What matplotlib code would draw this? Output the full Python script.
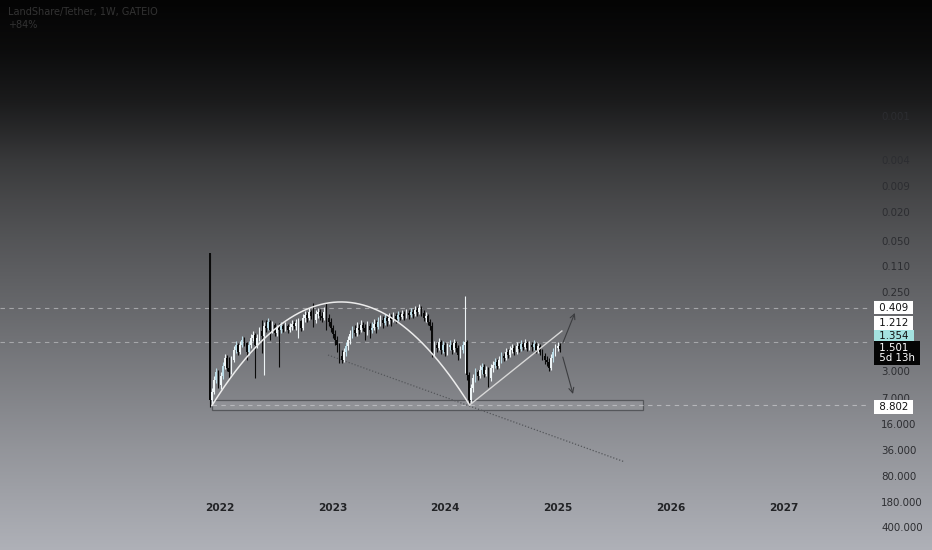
import datetime as dt
import numpy as np
import matplotlib
matplotlib.use('Agg')
import matplotlib.pyplot as plt
import matplotlib.dates as mdates
from matplotlib.patches import Rectangle
from matplotlib.ticker import NullLocator

# chart data (weekly candles, price in USDT, inverted log scale)
title = "LandShare/Tether, 1W, GATEIO"
subtitle = "+84%"
first_week = dt.date(2021, 11, 29)
first_open = 0.0735

close = [7.42, 5.78, 3.96, 3.08, 4.64, 3.50, 2.55, 1.99, 2.72, 3.08,
         2.12, 1.55, 1.32, 1.65, 1.32, 1.13, 1.24, 1.65, 1.32, 1.06,
         0.965, 1.32, 1.06, 0.851, 0.995, 0.727, 0.774, 0.641, 0.824, 0.705,
         0.906, 0.774, 0.824, 0.727, 0.799, 0.727, 0.824, 0.750, 0.683, 0.727,
         0.662, 0.621, 0.774, 0.566, 0.515, 0.566, 0.468, 0.531, 0.602, 0.499,
         0.468, 0.531, 0.566, 0.468, 0.566, 0.641, 0.774, 0.935, 1.13, 1.32,
         1.87, 2.12, 1.65, 1.36, 1.13, 0.935, 0.824, 0.906, 0.774, 0.824,
         0.705, 0.774, 0.878, 0.727, 0.824, 0.774, 0.683, 0.750, 0.641, 0.602,
         0.662, 0.566, 0.621, 0.566, 0.602, 0.531, 0.584, 0.515, 0.548, 0.499,
         0.531, 0.483, 0.515, 0.468, 0.499, 0.440, 0.468, 0.413, 0.483, 0.566,
         0.531, 0.641, 0.727, 1.70, 1.32, 1.45, 1.20, 1.55, 1.32, 1.65,
         1.41, 1.32, 1.55, 1.24, 1.45, 1.81, 1.55, 1.32, 1.20, 3.39,
         7.42, 5.09, 3.72, 3.08, 3.50, 2.90, 2.64, 3.28, 2.90, 3.72,
         2.72, 2.47, 2.25, 2.55, 2.12, 1.87, 1.99, 1.65, 1.81, 1.55,
         1.45, 1.65, 1.36, 1.50, 1.28, 1.41, 1.24, 1.45, 1.32, 1.41,
         1.28, 1.55, 1.36, 1.65, 1.87, 2.12, 2.25, 2.72, 1.99, 1.65,
         1.45, 1.36, 1.50]

high = [9.25, 8.42, 6.15, 4.36, 5.09, 5.26, 3.84, 2.81, 2.99, 3.72,
        3.28, 2.25, 1.70, 1.81, 1.75, 1.41, 1.36, 2.12, 1.81, 1.45,
        1.17, 3.72, 1.45, 1.17, 1.70, 3.39, 0.878, 0.824, 1.13, 0.906,
        0.995, 0.995, 2.64, 0.906, 0.878, 0.851, 0.906, 0.878, 0.824, 0.799,
        0.824, 1.06, 0.851, 0.824, 0.641, 0.641, 0.602, 0.584, 0.750, 0.662,
        0.566, 0.602, 0.641, 0.602, 0.824, 0.727, 0.878, 1.06, 1.32, 1.65,
        2.32, 2.32, 2.25, 1.87, 1.55, 1.28, 1.06, 0.995, 0.995, 0.935,
        0.878, 0.851, 1.13, 0.965, 1.06, 0.906, 0.824, 0.906, 0.799, 0.727,
        0.774, 0.705, 0.727, 0.683, 0.727, 0.641, 0.662, 0.621, 0.602, 0.584,
        0.602, 0.566, 0.584, 0.548, 0.566, 0.531, 0.531, 0.499, 0.531, 0.621,
        0.641, 0.705, 0.824, 1.93, 1.87, 1.65, 1.55, 1.75, 1.70, 1.87,
        1.81, 1.55, 1.75, 1.65, 1.65, 2.12, 1.99, 1.70, 3.18, 3.96,
        8.69, 8.16, 5.78, 4.22, 3.96, 3.72, 3.28, 3.61, 3.50, 4.94,
        4.09, 3.08, 2.72, 2.81, 2.72, 2.32, 2.18, 2.12, 1.99, 1.93,
        1.70, 1.81, 1.75, 1.65, 1.59, 1.55, 1.50, 1.59, 1.55, 1.59,
        1.55, 1.70, 1.70, 1.81, 2.12, 2.40, 2.55, 2.99, 2.90, 2.25,
        1.87, 1.59, 1.65]

low = [0.0735, 5.09, 3.50, 2.72, 2.90, 3.08, 2.25, 1.75, 1.81, 1.93,
       1.87, 1.36, 1.17, 1.24, 1.17, 0.995, 1.03, 1.20, 1.17, 0.935,
       0.851, 0.906, 0.935, 0.750, 0.602, 0.641, 0.602, 0.566, 0.602, 0.621,
       0.662, 0.705, 0.662, 0.641, 0.683, 0.641, 0.683, 0.662, 0.602, 0.621,
       0.584, 0.566, 0.602, 0.499, 0.454, 0.468, 0.413, 0.440, 0.353, 0.440,
       0.413, 0.426, 0.468, 0.400, 0.353, 0.499, 0.566, 0.705, 0.824, 0.995,
       1.24, 1.55, 1.45, 1.20, 0.995, 0.824, 0.727, 0.705, 0.641, 0.683,
       0.602, 0.641, 0.683, 0.621, 0.662, 0.641, 0.584, 0.602, 0.548, 0.515,
       0.531, 0.499, 0.515, 0.483, 0.499, 0.468, 0.483, 0.454, 0.468, 0.440,
       0.454, 0.426, 0.440, 0.413, 0.426, 0.388, 0.400, 0.364, 0.388, 0.440,
       0.468, 0.499, 0.584, 0.641, 1.17, 1.20, 1.06, 1.13, 1.17, 1.20,
       1.24, 1.13, 1.20, 1.09, 1.17, 1.32, 1.36, 1.17, 0.283, 1.13,
       3.08, 4.49, 3.28, 2.72, 2.90, 2.47, 2.32, 2.40, 2.55, 2.64,
       2.40, 2.18, 1.99, 2.05, 1.87, 1.65, 1.70, 1.45, 1.50, 1.36,
       1.28, 1.32, 1.20, 1.24, 1.13, 1.20, 1.09, 1.17, 1.17, 1.20,
       1.13, 1.20, 1.24, 1.28, 1.50, 1.70, 1.87, 1.99, 1.75, 1.45,
       1.28, 1.20, 1.24]

y_ticks = [0.001, 0.004, 0.009, 0.020, 0.050, 0.110, 0.250, 3.000, 7.000,
           16.000, 36.000, 80.000, 180.000, 400.000]
years = [2022, 2023, 2024, 2025, 2026, 2027]

# drawings on the chart
dashed_levels = [0.409, 1.212]
support_level = 8.802
current_price = 1.501
indicator_price = 1.354
countdown = "5d 13h"
arc_dates = [dt.date(2021, 12, 6), dt.date(2023, 1, 28), dt.date(2024, 3, 20)]
arc_prices = [8.69, 0.342, 8.69]
rise_dates = [dt.date(2024, 3, 20), dt.date(2025, 1, 13)]
rise_prices = [8.69, 0.851]
trend_dates = [dt.date(2022, 12, 17), dt.date(2025, 8, 5)]
trend_prices = [1.81, 52.0]
box_dates = [dt.date(2021, 12, 6), dt.date(2025, 10, 3)]
box_prices = [7.42, 10.2]
up_arrow = [dt.date(2025, 1, 16), 1.24, dt.date(2025, 2, 24), 0.483]
down_arrow = [dt.date(2025, 1, 16), 1.93, dt.date(2025, 2, 18), 6.15]

fig = plt.figure(figsize=(9.32, 5.5), dpi=100)

# vertical gradient background like the screenshot
bg = fig.add_axes([0, 0, 1, 1], zorder=0)
rows = np.arange(550)
stop_y = [0, 50, 100, 130, 160, 200, 240, 300, 380, 450, 550]
stop_v = [4, 12, 27, 41, 57, 72, 85, 102, 127, 149, 177]
grey = np.interp(rows, stop_y, stop_v)
tint = np.interp(rows, [0, 200, 550], [0, 2, 7])
img = np.stack([grey - tint * 0.3, grey, grey + tint], axis=1)[:, None, :] / 255.0
bg.imshow(np.clip(img, 0, 1), aspect='auto', extent=[0, 1, 0, 1])
bg.axis('off')

ax = fig.add_axes([0, 0, 868 / 932, 1], zorder=1)
ax.patch.set_alpha(0)

weeks = [first_week + dt.timedelta(weeks=i) for i in range(len(close))]
x = mdates.date2num(weeks)
opens = [first_open] + close[:-1]

cols = []
bottoms = []
heights = []
for i, (o, c) in enumerate(zip(opens, close)):
    if c > o:
        cols.append('#0a0a0a')
    else:
        cols.append('#eef4f6' if i % 3 else '#bcdde8')
    bottoms.append(min(o, c))
    heights.append(abs(c - o))

ax.vlines(x, low, high, colors=cols, lw=0.8, zorder=3)
ax.bar(x, heights, bottom=bottoms, width=5.6, color=cols, linewidth=0, zorder=3)

# rectangle zone along the support
bx = mdates.date2num(box_dates)
ax.add_patch(Rectangle((bx[0], box_prices[0]), bx[1] - bx[0], box_prices[1] - box_prices[0],
                       facecolor='#a5a7ab', alpha=0.35, edgecolor='none', zorder=2))
ax.add_patch(Rectangle((bx[0], box_prices[0]), bx[1] - bx[0], box_prices[1] - box_prices[0],
                       facecolor='none', edgecolor='#55575b', lw=0.9, zorder=2))

# horizontal levels
d2022 = mdates.date2num(dt.date(2022, 1, 1))
px_per_day = 112.7 / 365.25
x_left = d2022 - 220 / px_per_day
x_right = d2022 + 648 / px_per_day
for lv in dashed_levels:
    ax.hlines(lv, x_left, x_right, colors='#b4b5b8', lw=0.8, linestyles=(0, (4, 4)), alpha=0.8, zorder=1)
ax.hlines(support_level, bx[0], x_right, colors='#c2c3c6', lw=0.8, linestyles=(0, (4, 4)), alpha=0.8, zorder=2)

# rounded arc (parabola in log space)
ad = mdates.date2num(arc_dates)
xs = np.linspace(ad[0], ad[2], 300)
t = (xs - ad[1]) / (ad[2] - ad[1])
logp = np.log(arc_prices[1]) + (np.log(arc_prices[2]) - np.log(arc_prices[1])) * t ** 2
ax.plot(xs, np.exp(logp), color='#ececec', lw=1.1, zorder=4)

ax.plot(mdates.date2num(rise_dates), rise_prices, color='#d8d8d8', lw=1.0, zorder=4)
ax.plot(mdates.date2num(trend_dates), trend_prices, color='#55575b', lw=0.9,
        linestyle=(0, (1, 1.5)), zorder=2)

for a in (up_arrow, down_arrow):
    ax.annotate('', xy=(mdates.date2num(a[2]), a[3]), xytext=(mdates.date2num(a[0]), a[1]),
                arrowprops=dict(arrowstyle='->', color='#3c3d40', lw=0.8,
                                shrinkA=0, shrinkB=0, mutation_scale=9), zorder=4)

ax.set_yscale('log')
ax.set_ylim(825, 2.61e-5)
ax.set_xlim(x_left, x_right)

ax.yaxis.tick_right()
ax.set_yticks(y_ticks, labels=[f"{v:.3f}" for v in y_ticks])
ax.yaxis.set_minor_locator(NullLocator())
ax.tick_params(axis='y', length=0, pad=9.4, labelsize=7.4, labelcolor='#2c2d31')

year_dates = [mdates.date2num(dt.date(y, 1, 1)) for y in years]
ax.set_xticks(year_dates, labels=[str(y) for y in years])
ax.tick_params(axis='x', length=0, pad=-34, labelsize=7.6, labelcolor='#222326')
for lab in ax.get_xticklabels():
    lab.set_fontweight('bold')

for s in ax.spines.values():
    s.set_visible(False)

# price labels on the scale
def price_box(text, price, dy, fc, tc):
    ax.annotate(text, xy=(1, price), xycoords=('axes fraction', 'data'),
                xytext=(5.8, dy), textcoords='offset points', ha='left', va='center',
                fontsize=7.4, color=tc, linespacing=1.0, annotation_clip=False,
                bbox=dict(boxstyle='square,pad=0.18', fc=fc, ec='none'), zorder=6)

price_box(f" {dashed_levels[0]:.3f} ", dashed_levels[0], 0, 'white', '#111111')
price_box(f" {dashed_levels[1]:.3f} ", dashed_levels[1], 13.9, 'white', '#111111')
price_box(f" {indicator_price:.3f} ", indicator_price, 6.7, '#a4e2e0', '#111111')
price_box(f" {current_price:.3f}  \n {countdown} ", current_price, -3.0, '#050505', 'white')
price_box(f" {support_level:.3f} ", support_level, -1.2, 'white', '#111111')

fig.text(8 / 932, 1 - 12 / 550, title, fontsize=7.0, color='#333333', va='center', ha='left')
fig.text(8 / 932, 1 - 25 / 550, subtitle, fontsize=7.0, color='#333333', va='center', ha='left')

fig.savefig('out.png', dpi=100)
